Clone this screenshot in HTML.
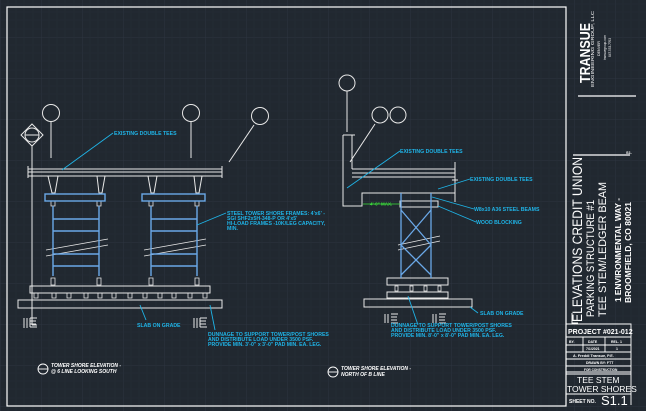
<!DOCTYPE html>
<html><head><meta charset="utf-8"><style>
html,body{margin:0;padding:0;background:#212830;}
svg{display:block;font-family:"Liberation Sans",sans-serif;}
.c{fill:#1fb3e6;font-size:5.2px;font-weight:bold;}
</style></head><body>
<svg width="646" height="411" viewBox="0 0 646 411" xmlns="http://www.w3.org/2000/svg">
<defs>
<pattern id="g" width="41" height="41" patternUnits="userSpaceOnUse" x="0" y="-4">
<rect width="41" height="41" fill="#212830"/>
<path d="M0 0H41M0 0V41" stroke="#2d3540" stroke-width="1"/>
<path d="M8 0V41M16 0V41M24 0V41M33 0V41M0 8H41M0 16H41M0 24H41M0 33H41" stroke="#252c35" stroke-width="0.6"/>
</pattern>
</defs>
<rect width="646" height="411" fill="url(#g)"/>
<g fill="none" stroke="#fff" stroke-width="1.2">
<rect x="7" y="7" width="559" height="399"/>
<line x1="578" y1="96" x2="636" y2="96"/>
<line x1="573" y1="155" x2="630" y2="155"/>
</g>
<!-- LEFT VIEW -->
<g fill="none" stroke="#e8e8e8" stroke-width="1">
<circle cx="51" cy="113" r="8.5"/><line x1="51" y1="121" x2="51" y2="158"/>
<circle cx="191" cy="113" r="8.5"/><line x1="191" y1="121" x2="191" y2="158"/>
<circle cx="260" cy="116" r="8.5"/><line x1="254" y1="125" x2="229" y2="162"/>
<path d="M32 124 L43 135 L32 146 L21 135 Z"/><circle cx="32" cy="135" r="7"/><line x1="25" y1="135" x2="39" y2="135"/>
<line x1="32" y1="146" x2="32" y2="325"/><line x1="32" y1="325" x2="37" y2="325"/>
<line x1="28" y1="169" x2="222" y2="169"/><line x1="28" y1="172" x2="222" y2="172"/><line x1="28" y1="176" x2="222" y2="176"/>
<line x1="28" y1="166" x2="28" y2="178"/><line x1="222" y1="166" x2="222" y2="178"/>
<path d="M48 176 L52 193 L55 193 L58 176 M97 176 L99 193 L102 193 L105 176 M148 176 L151 193 L154 193 L157 176 M194 176 L196 193 L199 193 L202 176"/>
<rect x="30" y="286" width="180" height="7"/><rect x="18" y="300" width="204" height="8"/>
<path d="M24 318V328M27 318V328M30 318H37M30 321H36M30 324H36M30 327H37M30 318V327"/>
<path d="M194 318V328M197 318V328M200 318H207M200 321H206M200 324H206M200 327H207M200 318V327"/>
<g stroke-width="0.8"><path d="M46 250 L108 239 M46 256 L108 245 M144 250 L206 239 M144 256 L206 245"/></g>
</g>
<g fill="none" stroke="#e8e8e8" stroke-width="0.8">
<path d="M34 293h4v5h-4zM52 293h4v5h-4zM67 293h4v5h-4zM84 293h4v5h-4zM98 293h4v5h-4zM112 293h4v5h-4zM128 293h4v5h-4zM143 293h4v5h-4zM158 293h4v5h-4zM172 293h4v5h-4zM188 293h4v5h-4zM203 293h4v5h-4z"/>
<path d="M51 201h4v5h-4zM97 201h4v5h-4zM149 201h4v5h-4zM195 201h4v5h-4zM51 278h4v7h-4zM97 278h4v7h-4zM149 278h4v7h-4zM195 278h4v7h-4z"/>
</g>
<g fill="none" stroke="#6aa8e8" stroke-width="1.4">
<rect x="45" y="194" width="60" height="7"/><rect x="142" y="194" width="63" height="7"/>
<path d="M53 206V276M99 206V276M151 206V276M197 206V276"/>
<path d="M53 219H99M53 231H99M53 254H99M53 266H99M151 219H197M151 231H197M151 254H197M151 266H197"/>
</g>
<g stroke="#1fb3e6" stroke-width="0.9" fill="none">
<path d="M113 133 L62 170"/><path d="M226 213 L197 225"/>
<path d="M140 305 L146 320"/><path d="M210 305 L215 330"/>
</g>
<text class="c" x="114" y="135">EXISTING DOUBLE TEES</text>
<text class="c" x="227" y="215">STEEL TOWER SHORE FRAMES: 4'x6' -</text>
<text class="c" x="227" y="220">SGI SHF2x5H-348-P OR 4'x5'</text>
<text class="c" x="227" y="225">HI-LOAD FRAMES -10K/LEG CAPACITY,</text>
<text class="c" x="227" y="230">MIN.</text>
<text class="c" x="137" y="327">SLAB ON GRADE</text>
<text class="c" x="208" y="336">DUNNAGE TO SUPPORT TOWER/POST SHORES</text>
<text class="c" x="208" y="341">AND DISTRIBUTE LOAD UNDER 3500 PSF.</text>
<text class="c" x="208" y="346">PROVIDE MIN. 3'-0" x 3'-0" PAD MIN. EA. LEG.</text>
<!-- RIGHT VIEW -->
<g fill="none" stroke="#e8e8e8" stroke-width="1">
<circle cx="347" cy="83" r="8"/><line x1="347" y1="91" x2="347" y2="132"/>
<circle cx="380" cy="115" r="8"/><circle cx="398" cy="115" r="8"/>
<line x1="375" y1="124" x2="350" y2="162"/>
<path d="M343 135 V206 H362 V193 H455"/><line x1="343" y1="135" x2="355" y2="135"/><line x1="352" y1="135" x2="352" y2="169"/>
<line x1="352" y1="169" x2="455" y2="169"/><line x1="352" y1="173" x2="455" y2="173"/><line x1="352" y1="177" x2="455" y2="177"/>
<line x1="455" y1="162" x2="455" y2="202"/><line x1="452" y1="180" x2="458" y2="180"/>
<rect x="400" y="201" width="38" height="6"/>
<rect x="387" y="278" width="61" height="7"/><rect x="387" y="292" width="61" height="6"/>
<rect x="364" y="299" width="108" height="8"/>
<path d="M395 286h3v5h-3zM410 286h3v5h-3zM424 286h3v5h-3zM438 286h3v5h-3z" stroke-width="0.8"/>
<path d="M385 314V323M388 314V323M391 314H398M391 317H397M391 320H397M391 323H398"/>
<path d="M433 314V323M436 314V323M439 314H446M439 317H445M439 320H445M439 323H446"/>
<path d="M398 245 L440 236 M398 250 L440 241" stroke-width="0.8"/>
</g>
<g fill="none" stroke="#6aa8e8" stroke-width="1.3">
<path d="M401 193V278M431 193V278M401 210L431 245M431 210L401 245M401 245L431 275M431 245L401 275"/>
</g>
<line x1="363" y1="204" x2="400" y2="204" stroke="#3ce03c" stroke-width="0.8"/>
<text x="370" y="205.5" fill="#3ce03c" font-size="4.5" font-weight="bold">4'-0" MAX.</text>
<g stroke="#1fb3e6" stroke-width="0.9" fill="none">
<path d="M400 151 L347 188"/><path d="M470 179 L438 189"/><path d="M474 209 L432 197"/><path d="M476 222 L438 206"/>
<path d="M478 313 L470 307"/><path d="M408 296 L418 325"/>
</g>
<text class="c" x="400" y="153">EXISTING DOUBLE TEES</text>
<text class="c" x="470" y="181">EXISTING DOUBLE TEES</text>
<text class="c" x="474" y="211">W8x10 A36 STEEL BEAMS</text>
<text class="c" x="476" y="224">WOOD BLOCKING</text>
<text class="c" x="480" y="315">SLAB ON GRADE</text>
<text class="c" x="391" y="327">DUNNAGE TO SUPPORT TOWER/POST SHORES</text>
<text class="c" x="391" y="332">AND DISTRIBUTE LOAD UNDER 3500 PSF.</text>
<text class="c" x="391" y="337">PROVIDE MIN. 8'-0" x 8'-0" PAD MIN. EA. LEG.</text>
<!-- view titles -->
<g fill="none" stroke="#fff" stroke-width="0.9"><circle cx="43" cy="369" r="5"/><line x1="38" y1="369" x2="48" y2="369"/><circle cx="333" cy="372" r="5"/><line x1="328" y1="372" x2="338" y2="372"/></g>
<g fill="#fff" font-size="5" font-style="italic" font-weight="bold">
<text x="51" y="367">TOWER SHORE ELEVATION -</text><text x="51" y="373">@ 6 LINE LOOKING SOUTH</text>
<text x="341" y="370">TOWER SHORE ELEVATION -</text><text x="341" y="376">NORTH OF B LINE</text>
</g>
<!-- TITLE BLOCK -->
<g fill="#fff">
<text transform="translate(590,83) rotate(-90)" font-size="15" font-weight="bold" textLength="60" lengthAdjust="spacingAndGlyphs">TRANSUE</text>
<text transform="translate(594,87) rotate(-90)" font-size="4.5" textLength="76" lengthAdjust="spacingAndGlyphs">ENGINEERING GROUP, LLC</text>
<text transform="translate(600,56) rotate(-90)" font-size="4" textLength="15" lengthAdjust="spacingAndGlyphs">DENVER</text>
<text transform="translate(606,60) rotate(-90)" font-size="4" textLength="25" lengthAdjust="spacingAndGlyphs">transuegroup.com</text>
<text transform="translate(611,57) rotate(-90)" font-size="4" textLength="19" lengthAdjust="spacingAndGlyphs">847.553.7763</text>
<text transform="translate(582,322) rotate(-90)" font-size="14" textLength="165" lengthAdjust="spacingAndGlyphs">ELEVATIONS CREDIT UNION</text>
<text transform="translate(594,317) rotate(-90)" font-size="11" textLength="117" lengthAdjust="spacingAndGlyphs">PARKING STRUCTURE #1</text>
<text transform="translate(606,317) rotate(-90)" font-size="11" textLength="135" lengthAdjust="spacingAndGlyphs">TEE STEM/LEDGER BEAM</text>
<text transform="translate(621,302) rotate(-90)" font-size="8" font-weight="bold" textLength="104" lengthAdjust="spacingAndGlyphs">1 ENVIRONMENTAL WAY -</text>
<text transform="translate(631,303) rotate(-90)" font-size="8" font-weight="bold" textLength="101" lengthAdjust="spacingAndGlyphs">BROOMFIELD, CO 80021</text>
<text x="626" y="154" font-size="4" font-weight="bold">S1.</text>
</g>
<g fill="none" stroke="#fff" stroke-width="0.9">
<path d="M566 324H631V405M566 337H631M566 345H631M566 352H631M566 359H631M566 366H631M566 372H631M566 374H631M566 394H631M583 337V345M605 337V352M583 345V352"/>
<path d="M572 313V323H578"/>
</g>
<g fill="#fff" font-weight="bold">
<text x="568" y="334" font-size="7">PROJECT #021-012</text>
<text x="569" y="343" font-size="3.5">BY.</text><text x="588" y="343" font-size="3.5">DATE</text><text x="611" y="343" font-size="3.5">REL. 1</text>
<text x="586" y="350" font-size="3.5">7/1/2021</text><text x="616" y="350" font-size="3.5">1</text>
<text x="573" y="357" font-size="3.8">A. Freddi Transue, P.E.</text>
<text x="586" y="364" font-size="3.5">DRAWN BY: FTT</text>
<text x="584" y="371" font-size="3.2">FOR CONSTRUCTION</text>
</g>
<g fill="#fff">
<text x="577" y="383" font-size="8.5">TEE STEM</text>
<text x="567" y="392" font-size="8.5">TOWER SHORES</text>
<text x="569" y="403" font-size="5" font-weight="bold">SHEET NO.</text>
<text x="601" y="405" font-size="13">S1.1</text>
</g>
</svg>
</body></html>
